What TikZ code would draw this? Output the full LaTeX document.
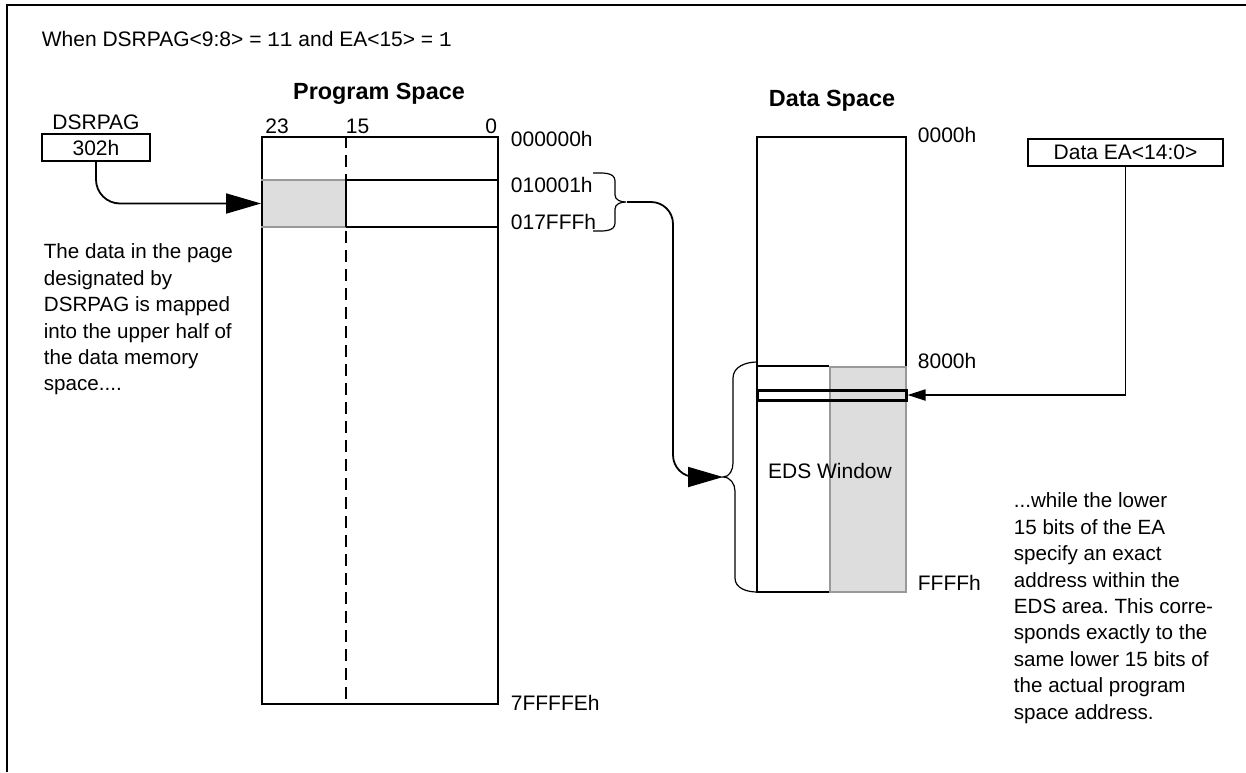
\documentclass[tikz,border=0pt]{standalone}
\usepackage{fontspec}
\setmainfont{Liberation Sans}
\setmonofont{Liberation Mono}
\usetikzlibrary{arrows.meta, positioning}
\definecolor{winfill}{HTML}{DDDDDD}
\definecolor{winedge}{HTML}{999999}
\frenchspacing

\begin{document}
\begin{tikzpicture}[x=0.5pt, y=-0.5pt, font=\fontsize{10.5}{12.6}\selectfont, line width=0.9pt,
  box/.style={draw, inner sep=0pt},
  lbl/.style={inner sep=0pt, anchor=base west},
  head/.style={inner sep=0pt, anchor=base, font=\fontsize{11.7}{14}\selectfont\bfseries},
  para/.style={inner sep=0pt, anchor=north west, align=left, font=\fontsize{10.3}{13.2}\selectfont},
  bigtip/.style={-{Triangle[length=17.5pt, width=10pt]}},
  smalltip/.style={-{Triangle[length=9pt, width=5.5pt]}}]
  \useasboundingbox (0,0) rectangle (1246,772);
  % frame
  \draw (7,772) |- (1246,5);
  \node[lbl] (title) at (41,46) {When DSRPAG<9:8> = \texttt{11} and EA<15> = \texttt{1}};

  % program space
  \node[head] (phead) at (379,99) {Program Space};
  \node[fill=winfill, inner sep=0pt, minimum width=41.5pt, minimum height=22.5pt] (pwin) at (303.5,203.5) {};
  \node[box, minimum width=118pt, minimum height=283.5pt] (prog) at (380,420.5) {};
  \draw[winedge] (pwin.north west) -- (pwin.north east) (pwin.south west) -- (pwin.south east);
  \draw (pwin.north east) -- (prog.east |- pwin.north) (pwin.south east) -- (prog.east |- pwin.south);
  \draw[dash pattern=on 6pt off 3.5pt] (prog.north -| pwin.east) -- (prog.south -| pwin.east);
  \draw (pwin.north east) -- (pwin.south east);
  \node[inner sep=0pt, anchor=base] (b23) at (277,133) {23};
  \node[inner sep=0pt, anchor=base west] (b15) at (345,133) {15};
  \node[inner sep=0pt, anchor=base east] (b0) at (498,133) {0};
  \node[lbl] (a0) at (510,146) {000000h};
  \node[lbl] (a1) at (510,192) {010001h};
  \node[lbl] (a2) at (510,229) {017FFFh};
  \node[lbl] (a3) at (510,710) {7FFFFEh};

  % page register
  \node[inner sep=0pt, anchor=base] (dsrname) at (96,129) {DSRPAG};
  \node[box, minimum width=54pt, minimum height=13.5pt] (dsr) at (96,147.5) {302h};
  \draw[bigtip, rounded corners=12pt] (dsr.south) |- (pwin.west);
  \node[para] (lnote) at (43,243) {The data in the page\\designated by\\DSRPAG is mapped\\into the upper half of\\the data memory\\space....};

  % bracket on the page
  \draw[line width=0.6pt] (593,173) to[out=0,in=90] (615,181) -- (615,195) to[out=-90,in=180] (626,202)
    to[out=180,in=90] (615,209) -- (615,223) to[out=-90,in=0] (593,231);
  \coordinate (brk) at (627,202);

  % data space
  \node[head] (dhead) at (832,106) {Data Space};
  \node[box, minimum width=74.5pt, minimum height=227.5pt] (dsp) at (831.5,364.5) {};
  \node[fill=winfill, draw=winedge, inner sep=0pt, minimum width=38pt, minimum height=112.5pt] (dwin) at (868,479.5) {};
  \draw (dsp.west |- dwin.north) -- (dwin.north west);
  \node[box, line width=1.5pt, minimum width=74.5pt, minimum height=5pt] (row) at (831.5,395) {};
  \node[inner sep=0pt] (edsl) at (830,471) {EDS Window};
  \node[lbl] (d0) at (917,142) {0000h};
  \node[lbl] (d1) at (917,368) {8000h};
  \node[lbl] (d2) at (917,590) {FFFFh};
  \draw[line width=0.6pt] (757,362) to[out=180,in=90] (733,378) -- (733,463) to[out=-90,in=0] (723,477)
    to[out=0,in=90] (735,491) -- (735,578) to[out=-90,in=180] (757,592);
  \coordinate (eds) at (723,477);
  \draw[bigtip, rounded corners=11pt] (brk) -| ([xshift=-25pt]eds) -- (eds);

  % effective address
  \node[box, minimum width=97.5pt, minimum height=13.5pt] (ea) at (1125.5,152.5) {Data EA<14:0>};
  \draw[smalltip] (ea.south) |- (row.east);
  \node[para] (rnote) at (1013,492) {...while the lower\\15 bits of the EA\\specify an exact\\address within the\\EDS area. This corre-\\sponds exactly to the\\same lower 15 bits of\\the actual program\\space address.};
\end{tikzpicture}
\end{document}
